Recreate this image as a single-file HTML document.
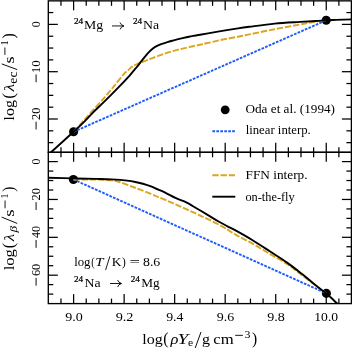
<!DOCTYPE html>
<html><head><meta charset="utf-8"><style>
html,body{margin:0;padding:0;background:#fff;width:352px;height:348px;overflow:hidden}
svg{display:block;font-family:"Liberation Serif", serif;font-kerning:none}
</style></head><body>
<svg width="352" height="348" viewBox="0 0 352 348" font-family="'Liberation Serif', serif" fill="#000">
<defs>
<clipPath id="ct"><rect x="48.3" y="0.85" width="303.10" height="151.45"/></clipPath>
<clipPath id="cb"><rect x="48.3" y="152.3" width="303.10" height="151.30"/></clipPath>
</defs>
<rect width="352" height="348" fill="#fff"/>

<g clip-path="url(#ct)" fill="none" stroke-width="1.9">
  <circle cx="73.6" cy="131.8" r="4.55" fill="#000"/>
  <circle cx="326.2" cy="20.3" r="4.55" fill="#000"/>
  <path d="M73.6,131.8 L326.2,20.3" stroke="#1a5cff" stroke-dasharray="2.7 1.25"/>
  <path d="M73.60,131.80 C75.15,130.08 79.63,125.13 82.90,121.50 C86.17,117.87 89.47,114.15 93.20,110.00 C96.93,105.85 101.73,100.68 105.30,96.60 C108.87,92.52 111.48,89.30 114.60,85.50 C117.72,81.70 121.68,76.40 124.00,73.80 C126.32,71.20 127.08,71.13 128.50,69.90 C129.92,68.67 130.82,67.50 132.50,66.40 C134.18,65.30 136.27,64.30 138.60,63.30 C140.93,62.30 144.07,61.32 146.50,60.40 C148.93,59.48 150.63,58.77 153.20,57.80 C155.77,56.83 159.35,55.50 161.90,54.60 C164.45,53.70 165.78,53.22 168.50,52.40 C171.22,51.58 174.78,50.58 178.20,49.70 C181.62,48.82 185.37,47.93 189.00,47.10 C192.63,46.27 197.07,45.33 200.00,44.70 C202.93,44.07 203.38,44.03 206.60,43.30 C209.82,42.57 214.07,41.40 219.30,40.30 C224.53,39.20 233.00,37.68 238.00,36.70 C243.00,35.72 243.20,35.65 249.30,34.40 C255.40,33.15 266.17,30.85 274.60,29.20 C283.03,27.55 293.67,25.67 299.90,24.50 C306.13,23.33 307.62,22.90 312.00,22.20 C316.38,21.50 323.83,20.62 326.20,20.30" stroke="#daa520" stroke-dasharray="6.4 1.8"/>
  <path d="M45.00,158.80 C46.00,157.72 46.23,156.80 51.00,152.30 C55.77,147.80 68.00,136.97 73.60,131.80 C79.20,126.63 81.33,124.55 84.60,121.30 C87.87,118.05 89.75,115.75 93.20,112.30 C96.65,108.85 100.77,105.10 105.30,100.60 C109.83,96.10 116.38,89.43 120.40,85.30 C124.42,81.17 126.73,78.77 129.40,75.80 C132.07,72.83 134.53,69.77 136.40,67.50 C138.27,65.23 139.23,63.93 140.60,62.20 C141.97,60.47 143.22,58.78 144.60,57.10 C145.98,55.42 147.47,53.57 148.90,52.10 C150.33,50.63 151.75,49.37 153.20,48.30 C154.65,47.23 156.13,46.43 157.60,45.70 C159.07,44.97 160.37,44.50 162.00,43.90 C163.63,43.30 165.60,42.65 167.40,42.10 C169.20,41.55 171.00,41.08 172.80,40.60 C174.60,40.12 176.40,39.65 178.20,39.20 C180.00,38.75 181.80,38.32 183.60,37.90 C185.40,37.48 187.20,37.07 189.00,36.70 C190.80,36.33 192.57,36.03 194.40,35.70 C196.23,35.37 197.97,35.05 200.00,34.70 C202.03,34.35 203.38,34.15 206.60,33.60 C209.82,33.05 214.07,32.27 219.30,31.40 C224.53,30.53 233.00,29.17 238.00,28.40 C243.00,27.63 243.20,27.60 249.30,26.80 C255.40,26.00 266.17,24.42 274.60,23.60 C283.03,22.78 293.00,22.33 299.90,21.90 C306.80,21.47 311.62,21.27 316.00,21.00 C320.38,20.73 322.87,20.48 326.20,20.30 C329.53,20.12 331.53,20.07 336.00,19.90 C340.47,19.73 350.17,19.40 353.00,19.30" stroke="#000"/>
</g>
<g clip-path="url(#cb)" fill="none" stroke-width="1.9">
  <circle cx="73.4" cy="179.5" r="4.55" fill="#000"/>
  <circle cx="326.4" cy="293.4" r="4.55" fill="#000"/>
  <path d="M73.4,179.5 L326.4,293.4" stroke="#1a5cff" stroke-dasharray="2.7 1.25"/>
  <path d="M73.40,179.50 C77.17,179.52 89.63,179.45 96.00,179.60 C102.37,179.75 107.70,180.00 111.60,180.40 C115.50,180.80 116.79,181.27 119.40,182.00 C122.01,182.73 124.38,183.75 127.25,184.80 C130.12,185.85 132.64,186.78 136.60,188.30 C140.56,189.82 147.47,192.47 151.00,193.90 C154.53,195.33 155.37,195.88 157.80,196.90 C160.23,197.92 163.00,198.92 165.60,200.00 C168.20,201.08 170.79,202.25 173.40,203.40 C176.01,204.55 178.63,205.72 181.25,206.90 C183.87,208.08 186.49,209.32 189.10,210.50 C191.71,211.68 194.25,212.78 196.90,214.00 C199.55,215.22 200.82,215.75 205.00,217.80 C209.18,219.85 216.83,223.45 222.00,226.30 C227.17,229.15 230.83,231.97 236.00,234.90 C241.17,237.83 247.32,240.70 253.00,243.90 C258.68,247.10 264.42,250.75 270.10,254.10 C275.78,257.45 282.12,260.75 287.10,264.00 C292.08,267.25 295.52,270.22 300.00,273.60 C304.48,276.98 309.60,281.00 314.00,284.30 C318.40,287.60 324.33,291.88 326.40,293.40" stroke="#daa520" stroke-dasharray="6.4 1.8"/>
  <path d="M46.00,177.60 C46.38,177.62 43.73,177.57 48.30,177.70 C52.87,177.83 65.45,178.20 73.40,178.40 C81.35,178.60 89.63,178.73 96.00,178.90 C102.37,179.07 106.39,179.12 111.60,179.40 C116.81,179.68 123.08,180.13 127.25,180.60 C131.42,181.07 133.99,181.67 136.60,182.20 C139.21,182.72 140.50,183.05 142.90,183.75 C145.30,184.45 148.52,185.46 151.00,186.40 C153.48,187.34 155.37,188.33 157.80,189.40 C160.23,190.47 162.57,191.33 165.60,192.80 C168.63,194.27 172.57,196.62 176.00,198.20 C179.43,199.78 183.37,200.97 186.20,202.30 C189.03,203.63 190.43,204.70 193.00,206.20 C195.57,207.70 198.75,209.60 201.60,211.30 C204.45,213.00 207.27,214.70 210.10,216.40 C212.93,218.10 215.77,219.88 218.60,221.50 C221.43,223.12 224.20,224.57 227.10,226.10 C230.00,227.63 231.68,228.30 236.00,230.70 C240.32,233.10 247.32,237.03 253.00,240.50 C258.68,243.97 264.42,247.82 270.10,251.50 C275.78,255.18 281.87,258.92 287.10,262.60 C292.33,266.28 296.68,269.77 301.50,273.60 C306.32,277.43 311.85,282.27 316.00,285.60 C320.15,288.93 322.90,290.65 326.40,293.60 C329.90,296.55 334.57,301.07 337.00,303.30 C339.43,305.53 340.33,306.38 341.00,307.00" stroke="#000"/>
</g>

<line x1="73.60" y1="0.85" x2="73.60" y2="10.35" stroke="#000" stroke-width="1.25"/>
<line x1="73.60" y1="152.30" x2="73.60" y2="142.80" stroke="#000" stroke-width="1.25"/>
<line x1="73.60" y1="152.30" x2="73.60" y2="161.80" stroke="#000" stroke-width="1.25"/>
<line x1="73.60" y1="303.60" x2="73.60" y2="294.10" stroke="#000" stroke-width="1.25"/>
<line x1="124.13" y1="0.85" x2="124.13" y2="10.35" stroke="#000" stroke-width="1.25"/>
<line x1="124.13" y1="152.30" x2="124.13" y2="142.80" stroke="#000" stroke-width="1.25"/>
<line x1="124.13" y1="152.30" x2="124.13" y2="161.80" stroke="#000" stroke-width="1.25"/>
<line x1="124.13" y1="303.60" x2="124.13" y2="294.10" stroke="#000" stroke-width="1.25"/>
<line x1="174.66" y1="0.85" x2="174.66" y2="10.35" stroke="#000" stroke-width="1.25"/>
<line x1="174.66" y1="152.30" x2="174.66" y2="142.80" stroke="#000" stroke-width="1.25"/>
<line x1="174.66" y1="152.30" x2="174.66" y2="161.80" stroke="#000" stroke-width="1.25"/>
<line x1="174.66" y1="303.60" x2="174.66" y2="294.10" stroke="#000" stroke-width="1.25"/>
<line x1="225.19" y1="0.85" x2="225.19" y2="10.35" stroke="#000" stroke-width="1.25"/>
<line x1="225.19" y1="152.30" x2="225.19" y2="142.80" stroke="#000" stroke-width="1.25"/>
<line x1="225.19" y1="152.30" x2="225.19" y2="161.80" stroke="#000" stroke-width="1.25"/>
<line x1="225.19" y1="303.60" x2="225.19" y2="294.10" stroke="#000" stroke-width="1.25"/>
<line x1="275.72" y1="0.85" x2="275.72" y2="10.35" stroke="#000" stroke-width="1.25"/>
<line x1="275.72" y1="152.30" x2="275.72" y2="142.80" stroke="#000" stroke-width="1.25"/>
<line x1="275.72" y1="152.30" x2="275.72" y2="161.80" stroke="#000" stroke-width="1.25"/>
<line x1="275.72" y1="303.60" x2="275.72" y2="294.10" stroke="#000" stroke-width="1.25"/>
<line x1="326.25" y1="0.85" x2="326.25" y2="10.35" stroke="#000" stroke-width="1.25"/>
<line x1="326.25" y1="152.30" x2="326.25" y2="142.80" stroke="#000" stroke-width="1.25"/>
<line x1="326.25" y1="152.30" x2="326.25" y2="161.80" stroke="#000" stroke-width="1.25"/>
<line x1="326.25" y1="303.60" x2="326.25" y2="294.10" stroke="#000" stroke-width="1.25"/>
<line x1="60.97" y1="0.85" x2="60.97" y2="5.85" stroke="#000" stroke-width="1.25"/>
<line x1="60.97" y1="152.30" x2="60.97" y2="147.30" stroke="#000" stroke-width="1.25"/>
<line x1="60.97" y1="152.30" x2="60.97" y2="157.30" stroke="#000" stroke-width="1.25"/>
<line x1="60.97" y1="303.60" x2="60.97" y2="298.60" stroke="#000" stroke-width="1.25"/>
<line x1="86.23" y1="0.85" x2="86.23" y2="5.85" stroke="#000" stroke-width="1.25"/>
<line x1="86.23" y1="152.30" x2="86.23" y2="147.30" stroke="#000" stroke-width="1.25"/>
<line x1="86.23" y1="152.30" x2="86.23" y2="157.30" stroke="#000" stroke-width="1.25"/>
<line x1="86.23" y1="303.60" x2="86.23" y2="298.60" stroke="#000" stroke-width="1.25"/>
<line x1="98.86" y1="0.85" x2="98.86" y2="5.85" stroke="#000" stroke-width="1.25"/>
<line x1="98.86" y1="152.30" x2="98.86" y2="147.30" stroke="#000" stroke-width="1.25"/>
<line x1="98.86" y1="152.30" x2="98.86" y2="157.30" stroke="#000" stroke-width="1.25"/>
<line x1="98.86" y1="303.60" x2="98.86" y2="298.60" stroke="#000" stroke-width="1.25"/>
<line x1="111.50" y1="0.85" x2="111.50" y2="5.85" stroke="#000" stroke-width="1.25"/>
<line x1="111.50" y1="152.30" x2="111.50" y2="147.30" stroke="#000" stroke-width="1.25"/>
<line x1="111.50" y1="152.30" x2="111.50" y2="157.30" stroke="#000" stroke-width="1.25"/>
<line x1="111.50" y1="303.60" x2="111.50" y2="298.60" stroke="#000" stroke-width="1.25"/>
<line x1="136.76" y1="0.85" x2="136.76" y2="5.85" stroke="#000" stroke-width="1.25"/>
<line x1="136.76" y1="152.30" x2="136.76" y2="147.30" stroke="#000" stroke-width="1.25"/>
<line x1="136.76" y1="152.30" x2="136.76" y2="157.30" stroke="#000" stroke-width="1.25"/>
<line x1="136.76" y1="303.60" x2="136.76" y2="298.60" stroke="#000" stroke-width="1.25"/>
<line x1="149.40" y1="0.85" x2="149.40" y2="5.85" stroke="#000" stroke-width="1.25"/>
<line x1="149.40" y1="152.30" x2="149.40" y2="147.30" stroke="#000" stroke-width="1.25"/>
<line x1="149.40" y1="152.30" x2="149.40" y2="157.30" stroke="#000" stroke-width="1.25"/>
<line x1="149.40" y1="303.60" x2="149.40" y2="298.60" stroke="#000" stroke-width="1.25"/>
<line x1="162.03" y1="0.85" x2="162.03" y2="5.85" stroke="#000" stroke-width="1.25"/>
<line x1="162.03" y1="152.30" x2="162.03" y2="147.30" stroke="#000" stroke-width="1.25"/>
<line x1="162.03" y1="152.30" x2="162.03" y2="157.30" stroke="#000" stroke-width="1.25"/>
<line x1="162.03" y1="303.60" x2="162.03" y2="298.60" stroke="#000" stroke-width="1.25"/>
<line x1="187.29" y1="0.85" x2="187.29" y2="5.85" stroke="#000" stroke-width="1.25"/>
<line x1="187.29" y1="152.30" x2="187.29" y2="147.30" stroke="#000" stroke-width="1.25"/>
<line x1="187.29" y1="152.30" x2="187.29" y2="157.30" stroke="#000" stroke-width="1.25"/>
<line x1="187.29" y1="303.60" x2="187.29" y2="298.60" stroke="#000" stroke-width="1.25"/>
<line x1="199.93" y1="0.85" x2="199.93" y2="5.85" stroke="#000" stroke-width="1.25"/>
<line x1="199.93" y1="152.30" x2="199.93" y2="147.30" stroke="#000" stroke-width="1.25"/>
<line x1="199.93" y1="152.30" x2="199.93" y2="157.30" stroke="#000" stroke-width="1.25"/>
<line x1="199.93" y1="303.60" x2="199.93" y2="298.60" stroke="#000" stroke-width="1.25"/>
<line x1="212.56" y1="0.85" x2="212.56" y2="5.85" stroke="#000" stroke-width="1.25"/>
<line x1="212.56" y1="152.30" x2="212.56" y2="147.30" stroke="#000" stroke-width="1.25"/>
<line x1="212.56" y1="152.30" x2="212.56" y2="157.30" stroke="#000" stroke-width="1.25"/>
<line x1="212.56" y1="303.60" x2="212.56" y2="298.60" stroke="#000" stroke-width="1.25"/>
<line x1="237.82" y1="0.85" x2="237.82" y2="5.85" stroke="#000" stroke-width="1.25"/>
<line x1="237.82" y1="152.30" x2="237.82" y2="147.30" stroke="#000" stroke-width="1.25"/>
<line x1="237.82" y1="152.30" x2="237.82" y2="157.30" stroke="#000" stroke-width="1.25"/>
<line x1="237.82" y1="303.60" x2="237.82" y2="298.60" stroke="#000" stroke-width="1.25"/>
<line x1="250.45" y1="0.85" x2="250.45" y2="5.85" stroke="#000" stroke-width="1.25"/>
<line x1="250.45" y1="152.30" x2="250.45" y2="147.30" stroke="#000" stroke-width="1.25"/>
<line x1="250.45" y1="152.30" x2="250.45" y2="157.30" stroke="#000" stroke-width="1.25"/>
<line x1="250.45" y1="303.60" x2="250.45" y2="298.60" stroke="#000" stroke-width="1.25"/>
<line x1="263.09" y1="0.85" x2="263.09" y2="5.85" stroke="#000" stroke-width="1.25"/>
<line x1="263.09" y1="152.30" x2="263.09" y2="147.30" stroke="#000" stroke-width="1.25"/>
<line x1="263.09" y1="152.30" x2="263.09" y2="157.30" stroke="#000" stroke-width="1.25"/>
<line x1="263.09" y1="303.60" x2="263.09" y2="298.60" stroke="#000" stroke-width="1.25"/>
<line x1="288.35" y1="0.85" x2="288.35" y2="5.85" stroke="#000" stroke-width="1.25"/>
<line x1="288.35" y1="152.30" x2="288.35" y2="147.30" stroke="#000" stroke-width="1.25"/>
<line x1="288.35" y1="152.30" x2="288.35" y2="157.30" stroke="#000" stroke-width="1.25"/>
<line x1="288.35" y1="303.60" x2="288.35" y2="298.60" stroke="#000" stroke-width="1.25"/>
<line x1="300.99" y1="0.85" x2="300.99" y2="5.85" stroke="#000" stroke-width="1.25"/>
<line x1="300.99" y1="152.30" x2="300.99" y2="147.30" stroke="#000" stroke-width="1.25"/>
<line x1="300.99" y1="152.30" x2="300.99" y2="157.30" stroke="#000" stroke-width="1.25"/>
<line x1="300.99" y1="303.60" x2="300.99" y2="298.60" stroke="#000" stroke-width="1.25"/>
<line x1="313.62" y1="0.85" x2="313.62" y2="5.85" stroke="#000" stroke-width="1.25"/>
<line x1="313.62" y1="152.30" x2="313.62" y2="147.30" stroke="#000" stroke-width="1.25"/>
<line x1="313.62" y1="152.30" x2="313.62" y2="157.30" stroke="#000" stroke-width="1.25"/>
<line x1="313.62" y1="303.60" x2="313.62" y2="298.60" stroke="#000" stroke-width="1.25"/>
<line x1="338.88" y1="0.85" x2="338.88" y2="5.85" stroke="#000" stroke-width="1.25"/>
<line x1="338.88" y1="152.30" x2="338.88" y2="147.30" stroke="#000" stroke-width="1.25"/>
<line x1="338.88" y1="152.30" x2="338.88" y2="157.30" stroke="#000" stroke-width="1.25"/>
<line x1="338.88" y1="303.60" x2="338.88" y2="298.60" stroke="#000" stroke-width="1.25"/>
<line x1="48.30" y1="24.40" x2="57.80" y2="24.40" stroke="#000" stroke-width="1.25"/>
<line x1="351.40" y1="24.40" x2="341.90" y2="24.40" stroke="#000" stroke-width="1.25"/>
<line x1="48.30" y1="71.70" x2="57.80" y2="71.70" stroke="#000" stroke-width="1.25"/>
<line x1="351.40" y1="71.70" x2="341.90" y2="71.70" stroke="#000" stroke-width="1.25"/>
<line x1="48.30" y1="119.00" x2="57.80" y2="119.00" stroke="#000" stroke-width="1.25"/>
<line x1="351.40" y1="119.00" x2="341.90" y2="119.00" stroke="#000" stroke-width="1.25"/>
<line x1="48.30" y1="12.57" x2="53.30" y2="12.57" stroke="#000" stroke-width="1.25"/>
<line x1="351.40" y1="12.57" x2="346.40" y2="12.57" stroke="#000" stroke-width="1.25"/>
<line x1="48.30" y1="36.23" x2="53.30" y2="36.23" stroke="#000" stroke-width="1.25"/>
<line x1="351.40" y1="36.23" x2="346.40" y2="36.23" stroke="#000" stroke-width="1.25"/>
<line x1="48.30" y1="48.05" x2="53.30" y2="48.05" stroke="#000" stroke-width="1.25"/>
<line x1="351.40" y1="48.05" x2="346.40" y2="48.05" stroke="#000" stroke-width="1.25"/>
<line x1="48.30" y1="59.88" x2="53.30" y2="59.88" stroke="#000" stroke-width="1.25"/>
<line x1="351.40" y1="59.88" x2="346.40" y2="59.88" stroke="#000" stroke-width="1.25"/>
<line x1="48.30" y1="83.53" x2="53.30" y2="83.53" stroke="#000" stroke-width="1.25"/>
<line x1="351.40" y1="83.53" x2="346.40" y2="83.53" stroke="#000" stroke-width="1.25"/>
<line x1="48.30" y1="95.35" x2="53.30" y2="95.35" stroke="#000" stroke-width="1.25"/>
<line x1="351.40" y1="95.35" x2="346.40" y2="95.35" stroke="#000" stroke-width="1.25"/>
<line x1="48.30" y1="107.18" x2="53.30" y2="107.18" stroke="#000" stroke-width="1.25"/>
<line x1="351.40" y1="107.18" x2="346.40" y2="107.18" stroke="#000" stroke-width="1.25"/>
<line x1="48.30" y1="130.83" x2="53.30" y2="130.83" stroke="#000" stroke-width="1.25"/>
<line x1="351.40" y1="130.83" x2="346.40" y2="130.83" stroke="#000" stroke-width="1.25"/>
<line x1="48.30" y1="142.65" x2="53.30" y2="142.65" stroke="#000" stroke-width="1.25"/>
<line x1="351.40" y1="142.65" x2="346.40" y2="142.65" stroke="#000" stroke-width="1.25"/>
<line x1="48.30" y1="161.60" x2="57.80" y2="161.60" stroke="#000" stroke-width="1.25"/>
<line x1="351.40" y1="161.60" x2="341.90" y2="161.60" stroke="#000" stroke-width="1.25"/>
<line x1="48.30" y1="199.46" x2="57.80" y2="199.46" stroke="#000" stroke-width="1.25"/>
<line x1="351.40" y1="199.46" x2="341.90" y2="199.46" stroke="#000" stroke-width="1.25"/>
<line x1="48.30" y1="237.32" x2="57.80" y2="237.32" stroke="#000" stroke-width="1.25"/>
<line x1="351.40" y1="237.32" x2="341.90" y2="237.32" stroke="#000" stroke-width="1.25"/>
<line x1="48.30" y1="275.18" x2="57.80" y2="275.18" stroke="#000" stroke-width="1.25"/>
<line x1="351.40" y1="275.18" x2="341.90" y2="275.18" stroke="#000" stroke-width="1.25"/>
<line x1="48.30" y1="171.06" x2="53.30" y2="171.06" stroke="#000" stroke-width="1.25"/>
<line x1="351.40" y1="171.06" x2="346.40" y2="171.06" stroke="#000" stroke-width="1.25"/>
<line x1="48.30" y1="180.53" x2="53.30" y2="180.53" stroke="#000" stroke-width="1.25"/>
<line x1="351.40" y1="180.53" x2="346.40" y2="180.53" stroke="#000" stroke-width="1.25"/>
<line x1="48.30" y1="190.00" x2="53.30" y2="190.00" stroke="#000" stroke-width="1.25"/>
<line x1="351.40" y1="190.00" x2="346.40" y2="190.00" stroke="#000" stroke-width="1.25"/>
<line x1="48.30" y1="208.93" x2="53.30" y2="208.93" stroke="#000" stroke-width="1.25"/>
<line x1="351.40" y1="208.93" x2="346.40" y2="208.93" stroke="#000" stroke-width="1.25"/>
<line x1="48.30" y1="218.39" x2="53.30" y2="218.39" stroke="#000" stroke-width="1.25"/>
<line x1="351.40" y1="218.39" x2="346.40" y2="218.39" stroke="#000" stroke-width="1.25"/>
<line x1="48.30" y1="227.85" x2="53.30" y2="227.85" stroke="#000" stroke-width="1.25"/>
<line x1="351.40" y1="227.85" x2="346.40" y2="227.85" stroke="#000" stroke-width="1.25"/>
<line x1="48.30" y1="246.78" x2="53.30" y2="246.78" stroke="#000" stroke-width="1.25"/>
<line x1="351.40" y1="246.78" x2="346.40" y2="246.78" stroke="#000" stroke-width="1.25"/>
<line x1="48.30" y1="256.25" x2="53.30" y2="256.25" stroke="#000" stroke-width="1.25"/>
<line x1="351.40" y1="256.25" x2="346.40" y2="256.25" stroke="#000" stroke-width="1.25"/>
<line x1="48.30" y1="265.71" x2="53.30" y2="265.71" stroke="#000" stroke-width="1.25"/>
<line x1="351.40" y1="265.71" x2="346.40" y2="265.71" stroke="#000" stroke-width="1.25"/>
<line x1="48.30" y1="284.64" x2="53.30" y2="284.64" stroke="#000" stroke-width="1.25"/>
<line x1="351.40" y1="284.64" x2="346.40" y2="284.64" stroke="#000" stroke-width="1.25"/>
<line x1="48.30" y1="294.11" x2="53.30" y2="294.11" stroke="#000" stroke-width="1.25"/>
<line x1="351.40" y1="294.11" x2="346.40" y2="294.11" stroke="#000" stroke-width="1.25"/>
<rect x="48.3" y="0.85" width="303.10" height="151.45" fill="none" stroke="#000" stroke-width="1.35"/>
<rect x="48.3" y="152.3" width="303.10" height="151.30" fill="none" stroke="#000" stroke-width="1.35"/>
<circle cx="225.2" cy="109.8" r="4.4" fill="#000"/>
<line x1="212.4" y1="131.3" x2="235" y2="131.3" stroke="#1a5cff" stroke-width="1.9" stroke-dasharray="2.7 1.25"/>
<line x1="212.3" y1="175.2" x2="235" y2="175.2" stroke="#daa520" stroke-width="1.9" stroke-dasharray="6.4 1.8"/>
<line x1="212.3" y1="196.7" x2="235.3" y2="196.7" stroke="#000" stroke-width="1.9"/>
<g style="filter:grayscale(1)">
<text transform="translate(65.15,320.90) scale(1.0423,1)" font-size="13.5">9.0</text>
<text transform="translate(115.67,320.90) scale(1.0577,1)" font-size="13.5">9.2</text>
<text transform="translate(166.21,320.90) scale(1.0229,1)" font-size="13.5">9.4</text>
<text transform="translate(216.74,320.90) scale(1.0351,1)" font-size="13.5">9.6</text>
<text transform="translate(267.27,320.90) scale(1.0423,1)" font-size="13.5">9.8</text>
<text transform="translate(314.30,320.90) scale(1.0080,1)" font-size="13.5">10.0</text>
<text transform="translate(39.80,27.35) rotate(-90) scale(0.8739,1)" font-size="13.5">0</text>
<text transform="translate(39.80,73.25) rotate(-90) scale(0.9662,1)" font-size="13.5">10</text>
<rect x="35.60" y="74.40" width="0.95" height="7.8" fill="#000"/>
<text transform="translate(39.80,119.95) rotate(-90) scale(0.9199,1)" font-size="13.5">20</text>
<rect x="35.60" y="121.70" width="0.95" height="7.8" fill="#000"/>
<text transform="translate(39.80,164.55) rotate(-90) scale(0.8739,1)" font-size="13.5">0</text>
<text transform="translate(39.80,200.41) rotate(-90) scale(0.9199,1)" font-size="13.5">20</text>
<rect x="35.60" y="202.16" width="0.95" height="7.8" fill="#000"/>
<text transform="translate(39.80,237.96) rotate(-90) scale(0.8961,1)" font-size="13.5">40</text>
<rect x="35.60" y="240.02" width="0.95" height="7.8" fill="#000"/>
<text transform="translate(39.80,276.11) rotate(-90) scale(0.9189,1)" font-size="13.5">60</text>
<rect x="35.60" y="277.88" width="0.95" height="7.8" fill="#000"/>
<text transform="translate(245.46,112.80) scale(1.0416,1)" font-size="12.7">Oda et al. (1994)</text>
<text transform="translate(245.64,134.30) scale(1.0048,1)" font-size="12.7">linear interp.</text>
<text transform="translate(245.52,179.20) scale(1.0471,1)" font-size="12.7">FFN interp.</text>
<text transform="translate(245.43,200.90) scale(0.9712,1)" font-size="12.7">on-the-fly</text>
<text transform="translate(73.89,24.40) scale(1.0513,1)" font-size="8.8" stroke="#000" stroke-width="0.25">24</text>
<text transform="translate(84.10,28.80) scale(1.0370,1)" font-size="13.3">Mg</text>
<path d="M112.0,25.95 H123.6 M120.0,22.45 Q120.8,25.15 124.0,25.95 Q120.8,26.75 120.0,29.45" stroke="#000" stroke-width="0.9" fill="none"/>
<text transform="translate(133.00,24.20) scale(1.0392,1)" font-size="8.8" stroke="#000" stroke-width="0.25">24</text>
<text transform="translate(143.10,28.80) scale(1.0373,1)" font-size="13.3">Na</text>
<text transform="translate(74.00,282.10) scale(1.0392,1)" font-size="8.8" stroke="#000" stroke-width="0.25">24</text>
<text transform="translate(84.60,286.80) scale(1.0373,1)" font-size="13.3">Na</text>
<path d="M110.0,283.5 H121.19999999999999 M117.6,280.0 Q118.39999999999999,282.7 121.6,283.5 Q118.39999999999999,284.3 117.6,287.0" stroke="#000" stroke-width="0.9" fill="none"/>
<text transform="translate(130.80,282.10) scale(1.0392,1)" font-size="8.8" stroke="#000" stroke-width="0.25">24</text>
<text transform="translate(141.22,286.80) scale(0.9978,1)" font-size="13.3">Mg</text>
<text transform="translate(74.14,266.10) scale(0.9651,1)" font-size="13.3">log</text>
<text transform="translate(91.36,266.10) scale(0.7611,1)" font-size="13.3">(</text>
<text transform="translate(95.22,266.10) scale(1.1214,1)" font-size="13.3" font-style="italic">T</text>
<line x1="105.6" y1="270.0" x2="109.9" y2="256.3" stroke="#000" stroke-width="0.9"/>
<text transform="translate(111.71,266.10) scale(1.0126,1)" font-size="13.3">K</text>
<text transform="translate(121.94,266.10) scale(0.8490,1)" font-size="13.3">)</text>
<text transform="translate(129.38,266.10) scale(1.3896,1)" font-size="13.3">=</text>
<text transform="translate(142.97,266.10) scale(1.0431,1)" font-size="13.3">8.6</text>
<text transform="translate(142.18,343.70) scale(1.0364,1)" font-size="15.5">log</text>
<text transform="translate(163.22,343.70) scale(0.8900,1)" font-size="17.5">(</text>
<text transform="translate(170.42,343.70) scale(1.0592,1)" font-size="15.5" font-style="italic">ρ</text>
<text transform="translate(177.38,343.70) scale(1.2620,1)" font-size="15.5" font-style="italic">Y</text>
<text transform="translate(188.05,346.40) scale(1.0562,1)" font-size="11.0">e</text>
<line x1="195.1" y1="348.3" x2="201.0" y2="332.0" stroke="#000" stroke-width="0.95"/>
<text transform="translate(202.11,343.70) scale(1.0311,1)" font-size="15.5">g</text>
<text transform="translate(213.26,343.70) scale(1.0771,1)" font-size="15.5">cm</text>
<rect x="235.2" y="334.85" width="7.7" height="0.9" fill="#000"/>
<text transform="translate(244.43,337.60) scale(1.1862,1)" font-size="10.0">3</text>
<text transform="translate(252.00,343.70) scale(0.8900,1)" font-size="17.5">)</text>
<text transform="translate(13.80,120.42) rotate(-90) scale(1.0312,1)" font-size="15.5">log</text>
<text transform="translate(13.80,98.75) rotate(-90) scale(0.9789,1)" font-size="17.5">(</text>
<text transform="translate(13.80,91.47) rotate(-90) scale(1.1334,1)" font-size="15.5" font-style="italic">λ</text>
<text transform="translate(16.50,83.63) rotate(-90) scale(1.1605,1)" font-size="11.8">ec</text>
<line x1="17.2" y1="69.6" x2="1.7" y2="63.9" stroke="#000" stroke-width="0.95"/>
<text transform="translate(13.80,63.45) rotate(-90) scale(1.1786,1)" font-size="15.5">s</text>
<rect x="4.45" y="47.5" width="0.9" height="7.4" fill="#000"/>
<text transform="translate(8.00,45.60) rotate(-90) scale(1.0226,1)" font-size="10.0">1</text>
<text transform="translate(13.80,38.41) rotate(-90) scale(0.9122,1)" font-size="17.5">)</text>
<text transform="translate(13.80,270.33) rotate(-90) scale(1.0729,1)" font-size="15.5">log</text>
<text transform="translate(13.80,248.28) rotate(-90) scale(0.8900,1)" font-size="17.5">(</text>
<text transform="translate(13.80,241.19) rotate(-90) scale(1.0886,1)" font-size="15.5" font-style="italic">λ</text>
<text transform="translate(17.00,232.48) rotate(-90) scale(1.2235,1)" font-size="11.0" font-style="italic">β</text>
<line x1="17.2" y1="223.4" x2="1.7" y2="217.1" stroke="#000" stroke-width="0.95"/>
<text transform="translate(13.80,216.68) rotate(-90) scale(1.2200,1)" font-size="15.5">s</text>
<rect x="4.6" y="200.5" width="0.9" height="7.8" fill="#000"/>
<text transform="translate(8.00,198.45) rotate(-90) scale(0.9658,1)" font-size="10.0">1</text>
<text transform="translate(13.80,191.80) rotate(-90) scale(0.8900,1)" font-size="17.5">)</text>
</g>
</svg>
</body></html>
